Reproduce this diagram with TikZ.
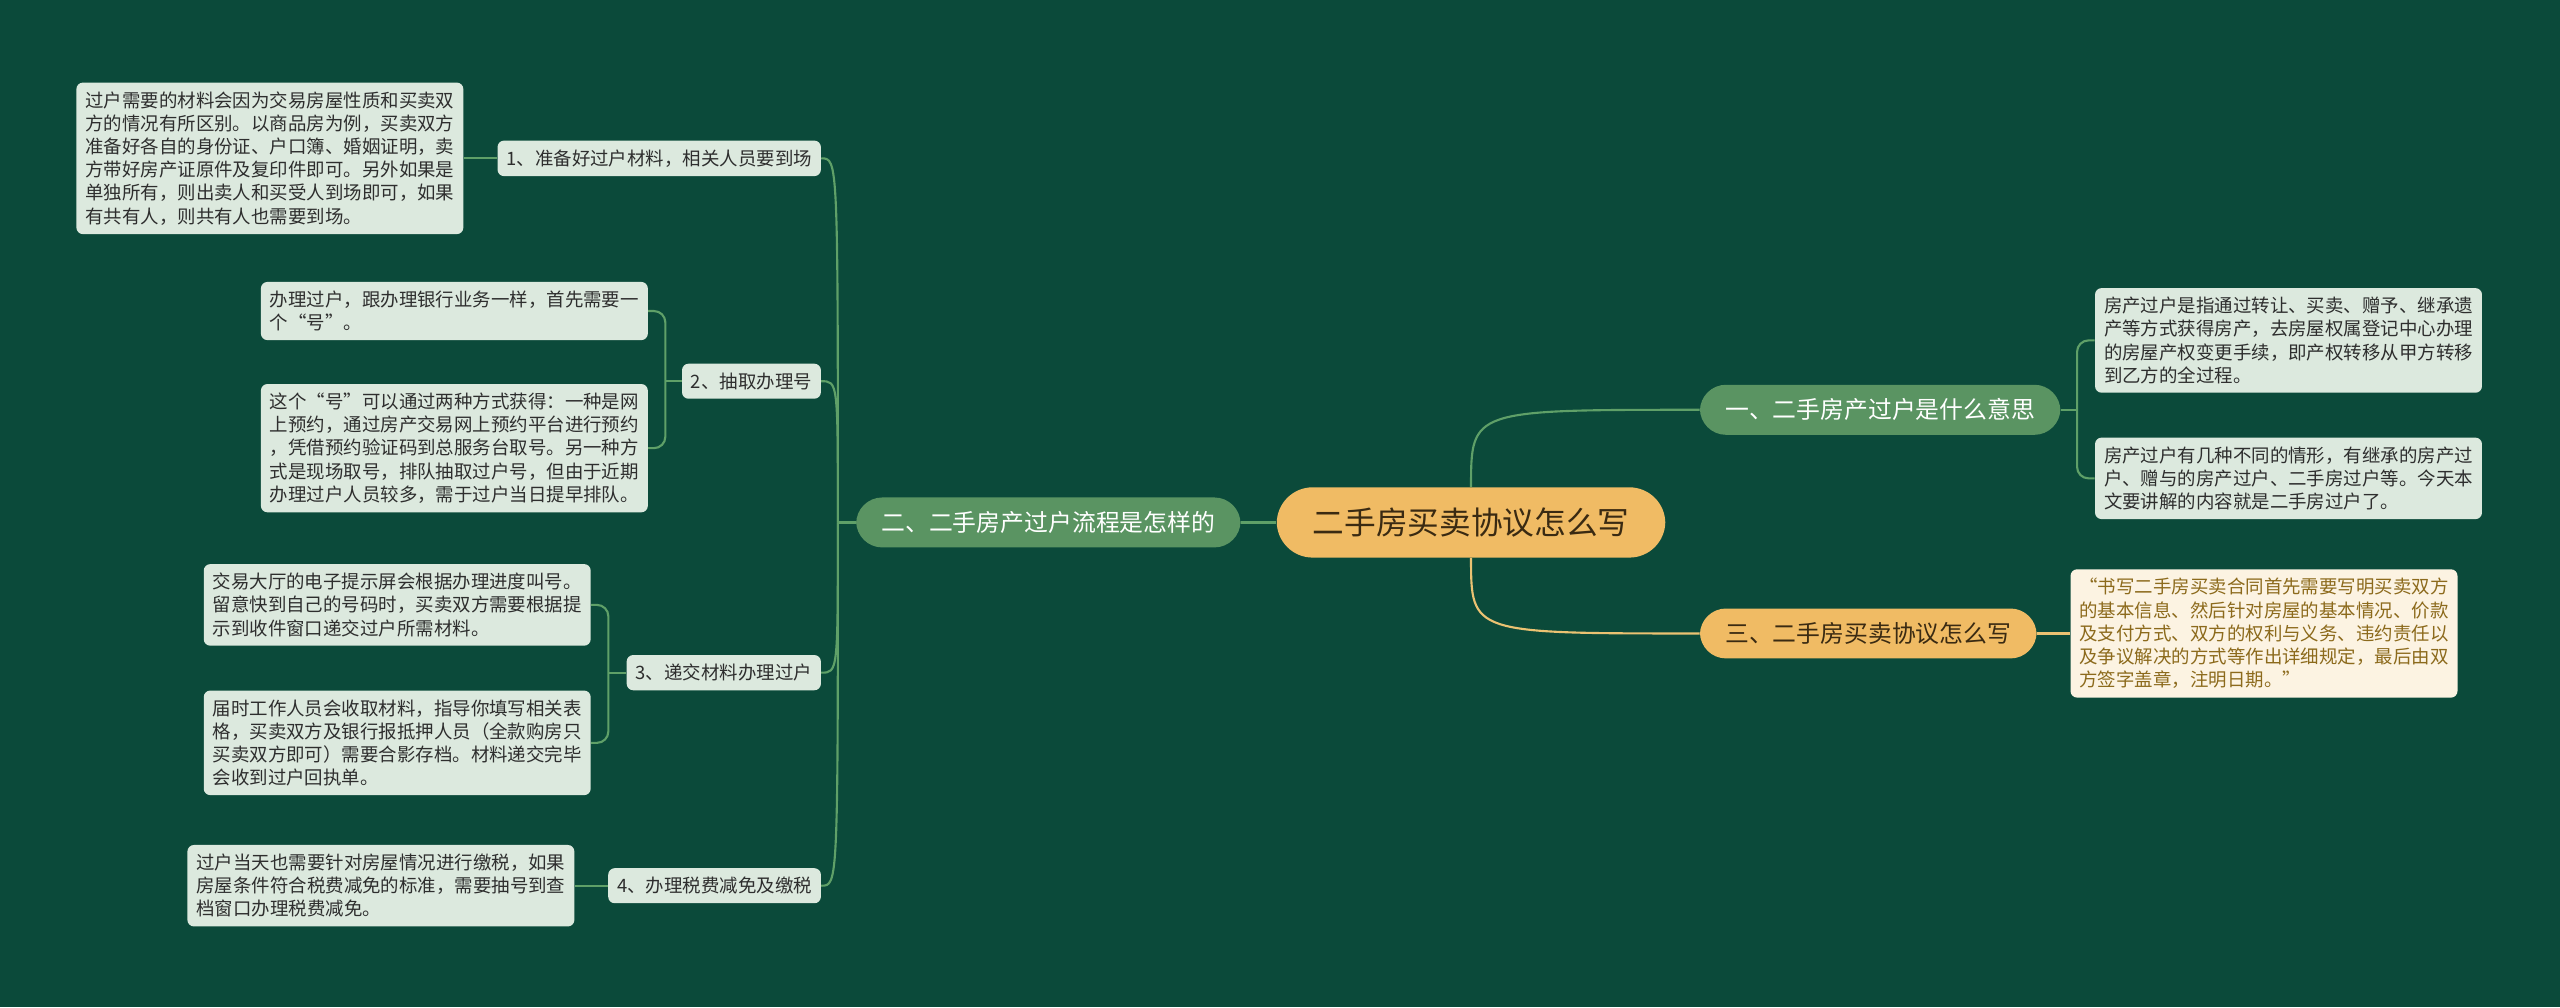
\documentclass[tikz,border=0pt]{standalone}
\usepackage{fontspec}
\setmainfont{Noto Sans CJK SC}
\definecolor{bgc}{HTML}{0B4A3A}
\definecolor{brgreen}{HTML}{5A9462}
\definecolor{orng}{HTML}{F0BB64}
\definecolor{leafc}{HTML}{DCE9DE}
\definecolor{cream}{HTML}{FCF3E2}
\definecolor{gold}{HTML}{8C6A1C}
\definecolor{ink}{HTML}{2E2E2E}
\definecolor{brown}{HTML}{3A2A12}
\definecolor{wirec}{HTML}{5FA068}
\definecolor{owirec}{HTML}{EBC272}
\begin{document}
\begin{tikzpicture}[x=1pt,y=-1pt,
    leafbox/.style={fill=leafc,text=ink,rounded corners=4pt,inner xsep=5.5pt,inner ysep=5.5pt,align=left,font=\fontsize{11.3}{14.2}\selectfont},
    topic/.style={fill=brgreen,text=white,rounded corners=16pt,inner xsep=15.5pt,inner ysep=8.5pt,font=\fontsize{14.6}{17}\selectfont},
    rootbox/.style={fill=orng,text=brown,rounded corners=22pt,inner xsep=22pt,inner ysep=12.5pt,font=\fontsize{19.4}{22}\selectfont},
    conn/.style={draw=wirec,line width=1.3pt},
    oconn/.style={draw=owirec,line width=1.3pt}]
    \fill[bgc] (0,0) rectangle (1568,617);
    \useasboundingbox (0,0) rectangle (1568,617);

    \node[rootbox] (R) at (901,320) {二手房买卖协议怎么写};
    \node[topic,anchor=east] (B2) at (760,320) {二、二手房产过户流程是怎样的};
    \node[topic,anchor=west] (B1) at (1041,251) {一、二手房产过户是什么意思};
    \node[topic,fill=orng,text=brown,anchor=west] (B3) at (1041,388) {三、二手房买卖协议怎么写};

    \node[leafbox,anchor=west] (R1a) at (1283,208.5) {房产过户是指通过转让、买卖、赠予、继承遗\\产等方式获得房产，去房屋权属登记中心办理\\的房屋产权变更手续，即产权转移从甲方转移\\到乙方的全过程。};
    \node[leafbox,anchor=west] (R1b) at (1283,293) {房产过户有几种不同的情形，有继承的房产过\\户、赠与的房产过户、二手房过户等。今天本\\文要讲解的内容就是二手房过户了。};
    \node[leafbox,fill=cream,text=gold,anchor=west] (R3a) at (1268,388) {“书写二手房买卖合同首先需要写明买卖双方\\的基本信息、然后针对房屋的基本情况、价款\\及支付方式、双方的权利与义务、违约责任以\\及争议解决的方式等作出详细规定，最后由双\\方签字盖章，注明日期。”};

    \node[leafbox,anchor=east] (L1) at (503,97) {1、准备好过户材料，相关人员要到场};
    \node[leafbox,anchor=east] (L2) at (503,233.5) {2、抽取办理号};
    \node[leafbox,anchor=east] (L3) at (503,412) {3、递交材料办理过户};
    \node[leafbox,anchor=east] (L4) at (503,542.5) {4、办理税费减免及缴税};

    \node[leafbox,anchor=east] (L1a) at (284,97) {过户需要的材料会因为交易房屋性质和买卖双\\方的情况有所区别。以商品房为例，买卖双方\\准备好各自的身份证、户口簿、婚姻证明，卖\\方带好房产证原件及复印件即可。另外如果是\\单独所有，则出卖人和买受人到场即可，如果\\有共有人，则共有人也需要到场。};
    \node[leafbox,anchor=east] (L2a) at (397,190.5) {办理过户，跟办理银行业务一样，首先需要一\\个“号”。};
    \node[leafbox,anchor=east] (L2b) at (397,274.5) {这个“号”可以通过两种方式获得：一种是网\\上预约，通过房产交易网上预约平台进行预约\\，凭借预约验证码到总服务台取号。另一种方\\式是现场取号，排队抽取过户号，但由于近期\\办理过户人员较多，需于过户当日提早排队。};
    \node[leafbox,anchor=east] (L3a) at (362,370.5) {交易大厅的电子提示屏会根据办理进度叫号。\\留意快到自己的号码时，买卖双方需要根据提\\示到收件窗口递交过户所需材料。};
    \node[leafbox,anchor=east] (L3b) at (362,455) {届时工作人员会收取材料，指导你填写相关表\\格，买卖双方及银行报抵押人员（全款购房只\\买卖双方即可）需要合影存档。材料递交完毕\\会收到过户回执单。};
    \node[leafbox,anchor=east] (L4a) at (352,542.5) {过户当天也需要针对房屋情况进行缴税，如果\\房屋条件符合税费减免的标准，需要抽号到查\\档窗口办理税费减免。};

    \draw[conn] (R.west) -- (B2.east);
    \draw[conn] (R.north) .. controls (R.north |- B1.west) .. (B1.west);
    \draw[oconn] (R.south) .. controls (R.south |- B3.west) .. (B3.west);
    \draw[oconn] (B3.east) -- (R3a.west);

    \coordinate (T) at ([xshift=-11pt]B2.west);
    \draw[conn] (B2.west) -- (T);
    \foreach \n in {L1,L2,L3,L4}
        \draw[conn] (T) .. controls (T |- \n.east) .. (\n.east);

    \draw[conn] (L1.west) -- (L1a.east);
    \draw[conn] (L4.west) -- (L4a.east);

    \coordinate (J2) at ([xshift=-10pt]L2.west);
    \draw[conn] (L2.west) -- (J2);
    \draw[conn,rounded corners=7pt] (J2) |- (L2a.east) (J2) |- (L2b.east);
    \coordinate (J3) at ([xshift=-11pt]L3.west);
    \draw[conn] (L3.west) -- (J3);
    \draw[conn,rounded corners=7pt] (J3) |- (L3a.east) (J3) |- (L3b.east);
    \coordinate (J1) at ([xshift=10pt]B1.east);
    \draw[conn] (B1.east) -- (J1);
    \draw[conn,rounded corners=7pt] (J1) |- (R1a.west) (J1) |- (R1b.west);
\end{tikzpicture}
\end{document}
